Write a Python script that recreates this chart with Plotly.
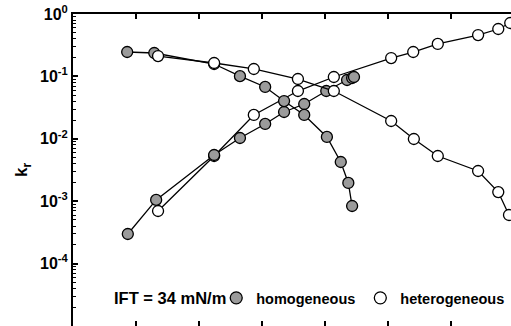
import plotly.graph_objects as go

# Water saturation (fraction) and relative permeabilities
hom_dec_x = [0.086, 0.129, 0.224, 0.265, 0.305, 0.335, 0.367, 0.403, 0.425, 0.437, 0.443]
hom_dec_y = [0.246, 0.237, 0.158, 0.101, 0.0677, 0.0403, 0.0241, 0.0107, 0.00425, 0.00196, 0.000837]

hom_inc_x = [0.087, 0.132, 0.224, 0.265, 0.305, 0.335, 0.367, 0.402, 0.435, 0.443, 0.446]
hom_inc_y = [0.000298, 0.00105, 0.0055, 0.0103, 0.0173, 0.0269, 0.0361, 0.0583, 0.0875, 0.0942, 0.0978]

het_dec_x = [0.135, 0.224, 0.287, 0.357, 0.414, 0.505, 0.541, 0.579, 0.643, 0.675, 0.692]
het_dec_y = [0.212, 0.164, 0.1315, 0.0908, 0.0583, 0.0193, 0.00993, 0.0053, 0.00305, 0.0014, 0.000601]

het_inc_x = [0.135, 0.224, 0.287, 0.357, 0.414, 0.505, 0.540, 0.579, 0.643, 0.675, 0.694]
het_inc_y = [0.000697, 0.0053, 0.0241, 0.0583, 0.0978, 0.197, 0.246, 0.331, 0.46, 0.575, 0.717]

y_tick_vals = [1, 0.1, 0.01, 0.001, 0.0001]
y_tick_text = ["10<sup>0</sup>", "10<sup>-1</sup>", "10<sup>-2</sup>", "10<sup>-3</sup>", "10<sup>-4</sup>"]

legend_title = "IFT = 34 mN/m"
series_names = ["homogeneous", "heterogeneous"]

GRAY = "#9b9b9b"
FONT = "Liberation Sans, Arial, sans-serif"

def trace(x, y, fill):
    return go.Scatter(
        x=x, y=y, mode="lines+markers", showlegend=False,
        line=dict(color="black", width=1.3),
        marker=dict(size=11, color=fill, line=dict(color="black", width=1.3)),
    )

fig = go.Figure()
fig.add_trace(trace(het_inc_x, het_inc_y, "white"))
fig.add_trace(trace(hom_inc_x, hom_inc_y, GRAY))
fig.add_trace(trace(hom_dec_x, hom_dec_y, GRAY))
fig.add_trace(trace(het_dec_x, het_dec_y, "white"))

pads = ["", "\u00a0\u00a0"]
for name, fill, pad in zip(series_names, [GRAY, "white"], pads):
    fig.add_trace(go.Scatter(
        x=[None], y=[None], mode="markers", name="<b>" + name + "</b>" + pad,
        marker=dict(size=12, color=fill, line=dict(color="black", width=1.3)),
    ))

fig.add_annotation(
    text=legend_title, xref="paper", yref="paper", x=0.089, y=0.09,
    xanchor="left", yanchor="middle", showarrow=False,
    font=dict(size=16.5, weight="bold", family=FONT),
)

fig.update_layout(
    width=511, height=326,
    margin=dict(l=73, r=0, t=14, b=0, autoexpand=False),
    paper_bgcolor="white", plot_bgcolor="white",
    font=dict(family=FONT, size=15, color="black", weight="bold"),
    showlegend=True,
    legend=dict(
        orientation="h", x=0.327, y=0.09, xanchor="left", yanchor="middle",
        bgcolor="rgba(0,0,0,0)", borderwidth=0,
        font=dict(size=14.5, weight="bold"), itemwidth=30, tracegroupgap=0,
    ),
)
fig.update_xaxes(
    range=[0, 0.6952], dtick=0.1, tick0=0, showticklabels=False,
    showline=True, linecolor="black", linewidth=2, mirror="ticks",
    ticks="inside", ticklen=5, tickwidth=1.5, tickcolor="black",
    showgrid=False, zeroline=False, automargin=False,
)
fig.update_yaxes(
    type="log", range=[-5, 0],
    tickvals=y_tick_vals, ticktext=y_tick_text,
    showline=True, linecolor="black", linewidth=2, mirror=False,
    ticks="inside", ticklen=5, tickwidth=1.5, tickcolor="black",
    minor=dict(ticks="inside", ticklen=3, tickcolor="black", tickwidth=1, dtick="D1"),
    showgrid=False, zeroline=False, automargin=False,
    tickfont=dict(size=16, weight="bold"),
    title=dict(text="k<sub>r</sub>", font=dict(size=17, weight="bold"), standoff=8),
)

fig.write_html(
    "out.html",
    config={"displayModeBar": False},
    post_script="document.body.style.margin='0';document.body.style.overflow='hidden';",
)
